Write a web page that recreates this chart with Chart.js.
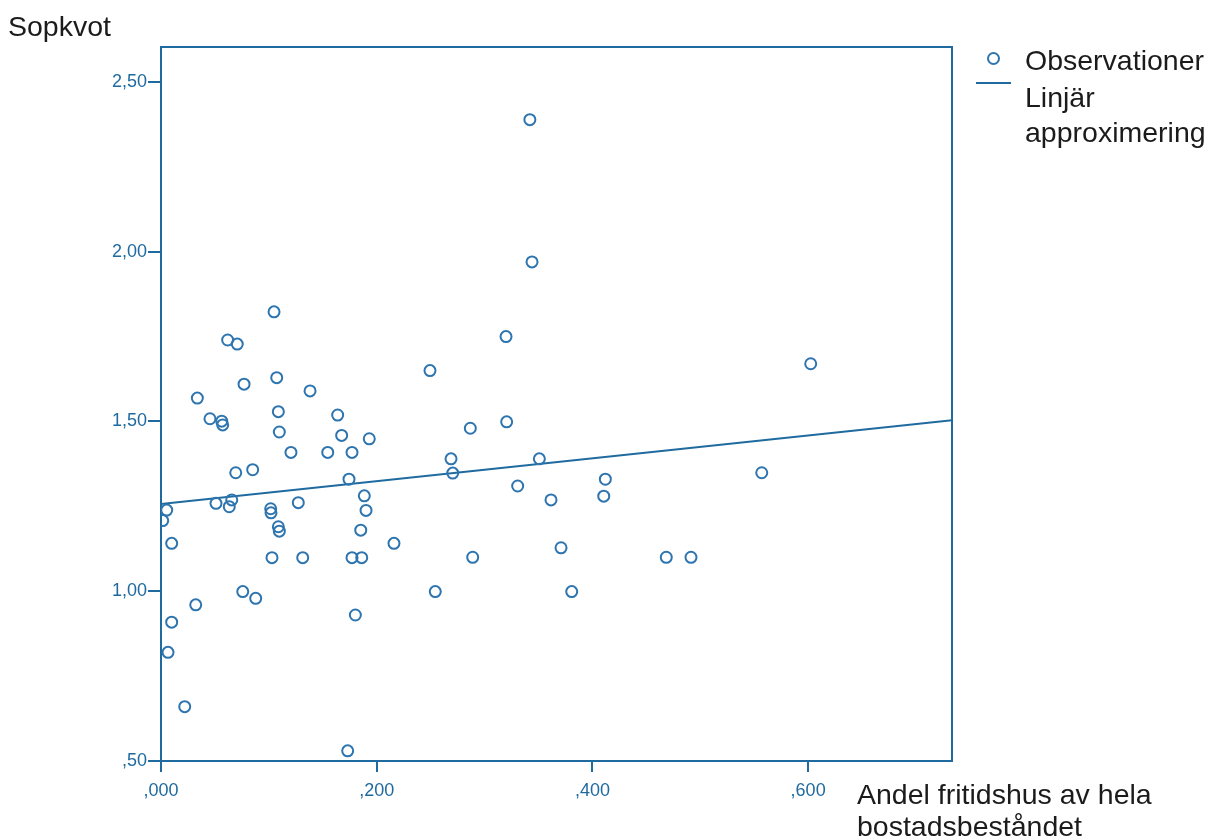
<!DOCTYPE html>
<html>
<head>
<meta charset="utf-8">
<script src="https://cdn.jsdelivr.net/npm/chart.js@4"></script>
<style>
  html, body { margin: 0; padding: 0; background: #fff; }
  #wrap { position: relative; width: 1213px; height: 839px; overflow: hidden; font-family: "Liberation Sans", Arial, sans-serif; }
  canvas { position: absolute; left: 0; top: 0; }
  .t { position: absolute; color: #1b1b1b; font-size: 28.5px; line-height: 35px; white-space: nowrap; }
  .mk { position: absolute; }
</style>
</head>
<body>
<div id="wrap">
  <canvas id="c" width="1213" height="839"></canvas>
  <div class="t" style="left:8px; top:9px;">Sopkvot</div>
  <div class="mk" style="left:987px; top:52px; width:9px; height:9px; border:2px solid #2e75af; border-radius:50%;"></div>
  <div class="mk" style="left:976px; top:82px; width:35px; height:2px; background:#1f6a9f;"></div>
  <div class="t" style="left:1025px; top:43px;">Observationer</div>
  <div class="t" style="left:1025px; top:80px;">Linjär<br>approximering</div>
  <div class="t" style="left:857px; top:778px; line-height:32px;">Andel fritidshus av hela<br>bostadsbeståndet</div>
</div>
<script>
const obsX = [0.342,0.344,0.1048,0.0618,0.0707,0.3199,0.6024,0.2494,0.1073,0.0770,
  0.0337,0.1382,0.1088,0.1638,0.0454,0.0563,0.0572,0.3205,0.2868,0.1097,
  0.1675,0.1931,0.1205,0.1546,0.1771,0.2689,0.3508,0.0693,0.0850,0.2705,
  0.5570,0.1743,0.4120,0.3307,0.1885,0.4105,0.3616,0.0656,0.0633,0.0510,
  0.1273,0.0053,0.1017,0.1020,0.1901,0.0016,0.1088,0.1097,0.1852,0.0099,
  0.2160,0.3709,0.1029,0.1314,0.1771,0.1861,0.2890,0.4685,0.4914,0.0758,
  0.2543,0.3808,0.0878,0.0322,0.1802,0.0099,0.0065,0.0220,0.1731];
const obsY = [2.389,1.970,1.823,1.740,1.728,1.750,1.670,1.650,1.629,1.610,
  1.569,1.590,1.529,1.519,1.508,1.501,1.490,1.499,1.480,1.469,
  1.459,1.449,1.409,1.409,1.409,1.390,1.390,1.349,1.358,1.348,
  1.349,1.330,1.330,1.310,1.281,1.280,1.269,1.269,1.249,1.259,
  1.261,1.239,1.243,1.231,1.238,1.208,1.190,1.177,1.180,1.141,
  1.141,1.128,1.099,1.099,1.099,1.099,1.100,1.100,1.100,0.999,
  0.999,0.999,0.979,0.960,0.930,0.909,0.820,0.660,0.530];
const fitX = [0, 0.7334];
const fitY = [1.257, 1.504];
const xTickValues = [0, 0.2, 0.4, 0.6];
const xTickLabels = [",000", ",200", ",400", ",600"];
const yTickValues = [0.5, 1.0, 1.5, 2.0, 2.5];
const yTickLabels = [",50", "1,00", "1,50", "2,00", "2,50"];
const xRange = [0, 0.7334];
const yRange = [0.5, 2.603];

const axisColor = '#1f6a9f';
const pointColor = '#2e75af';

const obsData = obsX.map((x, i) => ({ x: x, y: obsY[i] }));
const fitData = fitX.map((x, i) => ({ x: x, y: fitY[i] }));

const framePlugin = {
  id: 'frame',
  afterDraw(chart) {
    const a = chart.chartArea, ctx = chart.ctx;
    ctx.save();
    ctx.strokeStyle = axisColor;
    ctx.lineWidth = 2;
    ctx.beginPath();
    ctx.moveTo(a.left, a.top);
    ctx.lineTo(a.right, a.top);
    ctx.lineTo(a.right, a.bottom);
    ctx.stroke();
    ctx.restore();
  }
};

new Chart(document.getElementById('c'), {
  type: 'scatter',
  data: {
    datasets: [
      {
        label: 'Observationer',
        data: obsData,
        pointRadius: 5.5,
        pointHoverRadius: 5.5,
        pointBorderWidth: 2,
        pointBorderColor: pointColor,
        pointBackgroundColor: 'rgba(0,0,0,0)',
        showLine: false
      },
      {
        label: 'Linjär approximering',
        type: 'line',
        data: fitData,
        borderColor: axisColor,
        borderWidth: 2,
        pointRadius: 0,
        fill: false
      }
    ]
  },
  options: {
    responsive: false,
    animation: false,
    events: [],
    layout: { padding: { left: 0, top: 47, right: 261, bottom: 0 } },
    plugins: { legend: { display: false }, tooltip: { enabled: false } },
    scales: {
      x: {
        type: 'linear',
        min: xRange[0], max: xRange[1],
        afterFit(s) { s.height = 78; },
        afterBuildTicks(s) { s.ticks = xTickValues.map(v => ({ value: v })); },
        grid: { display: true, drawOnChartArea: false, drawTicks: true, tickLength: 11, color: axisColor, lineWidth: 2 },
        border: { display: true, color: axisColor, width: 2 },
        ticks: {
          color: axisColor, padding: 8,
          font: { family: '"Liberation Sans", Arial, sans-serif', size: 18 },
          maxRotation: 0, autoSkip: false,
          callback(v) { const i = xTickValues.findIndex(t => Math.abs(t - v) < 1e-9); return i >= 0 ? xTickLabels[i] : ''; }
        }
      },
      y: {
        type: 'linear',
        min: yRange[0], max: yRange[1],
        afterFit(s) { s.width = 161; },
        afterBuildTicks(s) { s.ticks = yTickValues.map(v => ({ value: v })); },
        grid: { display: true, drawOnChartArea: false, drawTicks: true, tickLength: 13, color: axisColor, lineWidth: 2 },
        border: { display: true, color: axisColor, width: 2 },
        ticks: {
          color: axisColor, padding: 1,
          font: { family: '"Liberation Sans", Arial, sans-serif', size: 18 },
          autoSkip: false,
          callback(v) { const i = yTickValues.findIndex(t => Math.abs(t - v) < 1e-9); return i >= 0 ? yTickLabels[i] : ''; }
        }
      }
    }
  },
  plugins: [framePlugin]
});
</script>
</body>
</html>
